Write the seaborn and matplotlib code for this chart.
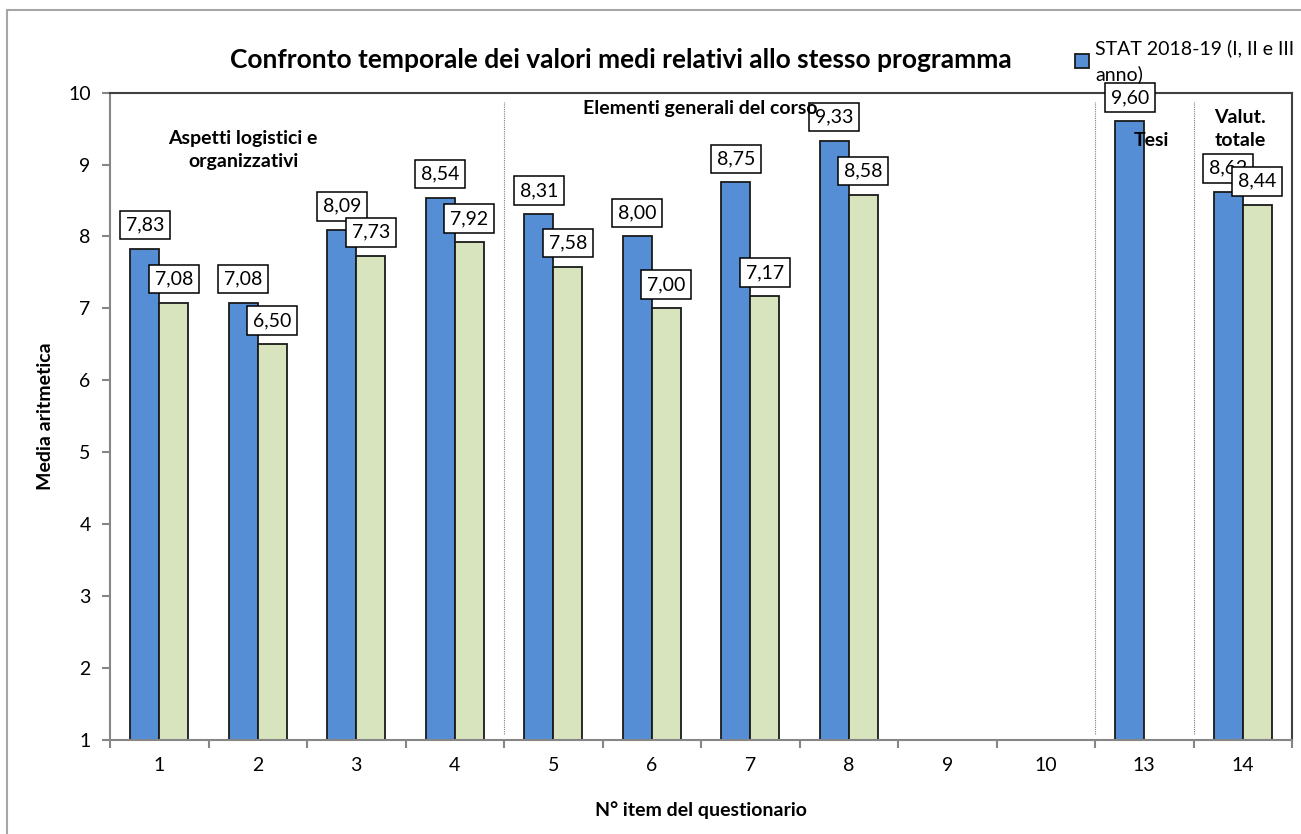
import numpy as np
import pandas as pd
import matplotlib
matplotlib.use("Agg")
import matplotlib.pyplot as plt
import matplotlib.patches as mpatches
import seaborn as sns

# Data
items = ["1", "2", "3", "4", "5", "6", "7", "8", "9", "10", "13", "14"]
stat_1819 = [7.83, 7.08, 8.09, 8.54, 8.31, 8.00, 8.75, 9.33, np.nan, np.nan, 9.60, 8.62]
stat_prev = [7.08, 6.50, 7.73, 7.92, 7.58, 7.00, 7.17, 8.58, np.nan, np.nan, np.nan, 8.44]
series_names = ["STAT 2018-19 (I, II e III anno)", "STAT anno precedente"]
legend_label = "STAT 2018-19 (I, II e III\nanno)"

df = pd.concat([
    pd.DataFrame({"item": items, "valore": stat_1819, "serie": series_names[0]}),
    pd.DataFrame({"item": items, "valore": stat_prev, "serie": series_names[1]}),
], ignore_index=True).dropna()

sns.set_theme(style="white")
plt.rcParams["font.family"] = ["Lato", "DejaVu Sans"]
plt.rcParams.update({"text.color": "black", "axes.labelcolor": "black",
                     "xtick.color": "black", "ytick.color": "black"})

fig = plt.figure(figsize=(13.01, 8.34), dpi=100)
ax = fig.add_axes([0.0846, 0.1127, 0.9085, 0.7763])

palette = {series_names[0]: "#558ED5", series_names[1]: "#D7E4BD"}
sns.barplot(data=df, x="item", y="valore", hue="serie", order=items,
            hue_order=series_names, palette=palette, width=0.59,
            edgecolor="#1a1a1a", linewidth=1.3, saturation=1, errorbar=None, ax=ax)

ax.set_ylim(1, 10)
ax.set_xlim(-0.5, len(items) - 0.5)
ax.set_yticks(range(1, 11))

FS = 14

# data labels
for container in ax.containers:
    for rect in container:
        h = rect.get_height()
        if np.isnan(h):
            continue
        ax.annotate(f"{h:.2f}".replace(".", ","),
                    xy=(rect.get_x() + rect.get_width() / 2, h),
                    xytext=(0, 17), textcoords="offset points",
                    ha="center", va="center", fontsize=FS, color="black",
                    bbox=dict(boxstyle="square,pad=0.3", fc="white", ec="black", lw=1.1),
                    zorder=5)

# section separators
for b in [3.5, 9.5, 10.5]:
    ax.axvline(b, ymin=0.01, ymax=0.985, color="#7f7f7f", ls=(0, (1, 1)), lw=0.8, zorder=0)

# section headers
ax.text(0.85, 9.2, "Aspetti logistici e\norganizzativi", ha="center", va="center",
        fontsize=FS, fontweight="bold", linespacing=1.45, zorder=6)
ax.text(5.49, 9.78, "Elementi generali del corso", ha="center", va="center",
        fontsize=FS, fontweight="bold", zorder=6)
ax.text(10.07, 9.33, "Tesi", ha="center", va="center", fontsize=FS, fontweight="bold", zorder=6)
ax.text(10.97, 9.49, "Valut.\ntotale", ha="center", va="center",
        fontsize=FS, fontweight="bold", linespacing=1.45, zorder=6)

# axes styling
for side in ["left", "bottom"]:
    ax.spines[side].set_color("#868686")
    ax.spines[side].set_linewidth(1.5)
for side in ["top", "right"]:
    ax.spines[side].set_color("#404040")
    ax.spines[side].set_linewidth(1.5)
ax.set_xticks(np.arange(-0.5, len(items), 1.0), minor=False)
ax.set_xticklabels([])
ax.set_xticks(np.arange(len(items)), minor=True)
ax.set_xticklabels(items, minor=True)
ax.tick_params(axis="x", which="major", direction="out", length=6, width=1.5, color="#868686", bottom=True)
ax.tick_params(axis="x", which="minor", length=0, pad=12, labelsize=FS)
ax.tick_params(axis="y", direction="out", length=6, width=1.5, color="#868686", left=True,
               labelsize=FS, pad=8)

ax.set_xlabel("N° item del questionario", fontsize=FS, fontweight="bold", labelpad=20)
ax.set_ylabel("Media aritmetica", fontsize=FS, fontweight="bold", labelpad=10)

fig.suptitle("Confronto temporale dei valori medi relativi allo stesso programma",
             x=0.477, y=0.943, fontsize=19, fontweight="bold")

# legend: only the first series is visible in the original
handles, labels = ax.get_legend_handles_labels()
leg = ax.legend([handles[0]], [legend_label], loc="upper left", bbox_to_anchor=(0.82, 0.962),
                bbox_transform=fig.transFigure, frameon=False, fontsize=FS,
                handlelength=0.75, handleheight=0.75, handletextpad=0.3, borderaxespad=0)
for t in leg.get_texts():
    t.set_linespacing(1.5)

# outer chart border
fig.patches.append(mpatches.Rectangle((0.0054, -0.02), 1.02, 1.008, transform=fig.transFigure,
                                      fill=False, ec="#a6a6a6", lw=1.5, zorder=0))

fig.savefig("out.png", dpi=100)
